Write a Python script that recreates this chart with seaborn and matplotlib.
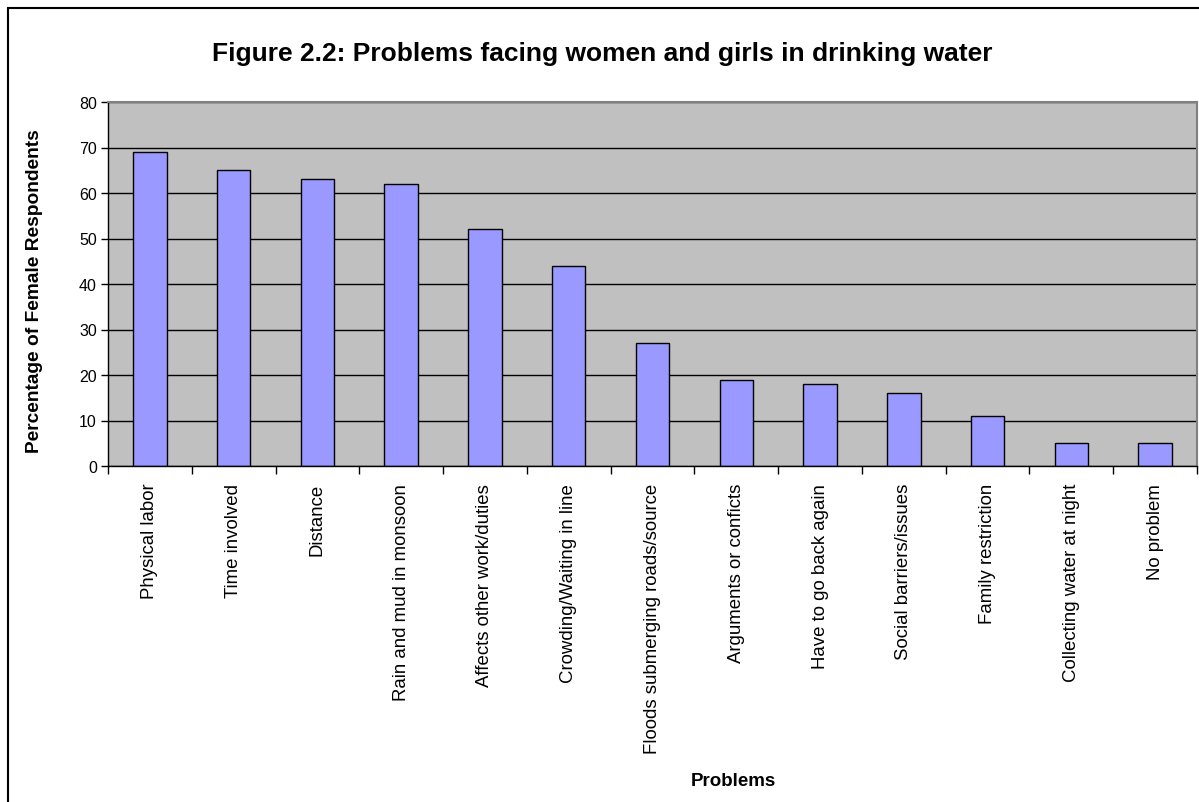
import matplotlib
matplotlib.use('Agg')
import numpy as np
import pandas as pd
import matplotlib.pyplot as plt
import seaborn as sns
from matplotlib.patches import Rectangle

# values
problems = ['Physical labor', 'Time involved', 'Distance', 'Rain and mud in monsoon',
            'Affects other work/duties', 'Crowding/Waiting in line',
            'Floods submerging roads/source', 'Arguments or conficts',
            'Have to go back again', 'Social barriers/issues', 'Family restriction',
            'Collecting water at night', 'No problem']
percentages = [69, 65, 63, 62, 52, 44, 27, 19, 18, 16, 11, 5, 5]
y_ticks = [0, 10, 20, 30, 40, 50, 60, 70, 80]

df = pd.DataFrame({'Problem': problems, 'Percent': percentages})

sns.set_style('white')
plt.rcParams['font.family'] = ['Liberation Sans', 'DejaVu Sans']
plt.rcParams['text.color'] = 'black'
plt.rcParams['xtick.color'] = 'black'
plt.rcParams['ytick.color'] = 'black'

W, H = 1199, 803
fig = plt.figure(figsize=(W / 100, H / 100), dpi=100)
ax = fig.add_axes([108 / W, 1 - 467 / H, (1197 - 108) / W, (467 - 103) / H])

sns.barplot(data=df, x='Problem', y='Percent', color='#9999FF', saturation=1,
            width=0.4, edgecolor='black', linewidth=1, ax=ax)

ax.set_facecolor('#C0C0C0')
ax.set_xlim(-0.5, len(problems) - 0.5)
ax.set_ylim(0, 80)
ax.set_yticks(y_ticks)
ax.yaxis.grid(True, color='black', linewidth=1)
ax.set_axisbelow(True)
ax.set_xlabel('')
ax.set_ylabel('')

# category labels in the middle, tick marks on the boundaries
ax.set_xticks(range(len(problems)))
ax.set_xticklabels(problems, rotation=90, fontsize=13.4)
ax.set_xticks(np.arange(len(problems) + 1) - 0.5, minor=True)
ax.tick_params(axis='x', which='major', length=0, pad=12)
ax.tick_params(axis='x', which='minor', length=6, width=1, direction='out', color='black', bottom=True)
ax.tick_params(axis='y', length=5, width=1, direction='out', color='black', left=True,
               labelsize=11.5, pad=3)

for side in ['left', 'bottom']:
    ax.spines[side].set_color('black')
    ax.spines[side].set_linewidth(1)
for side in ['top', 'right']:
    ax.spines[side].set_color('#808080')
    ax.spines[side].set_linewidth(1.5)

fig.text(602 / W, 1 - 54 / H, 'Figure 2.2: Problems facing women and girls in drinking water',
         ha='center', va='center', fontsize=19, fontweight='bold')
fig.text(35 / W, 1 - 291 / H, 'Percentage of Female Respondents', rotation=90,
         ha='center', va='center', fontsize=13.8, fontweight='bold')
fig.text(733 / W, 1 - 782 / H, 'Problems', ha='center', va='center',
         fontsize=13.5, fontweight='bold')

# outer chart border
fig.add_artist(Rectangle((8 / W, -0.05), 1.0, 1.05 - 9 / H, transform=fig.transFigure,
                         fill=False, edgecolor='black', linewidth=1.5))

fig.savefig('out.png', dpi=100)
